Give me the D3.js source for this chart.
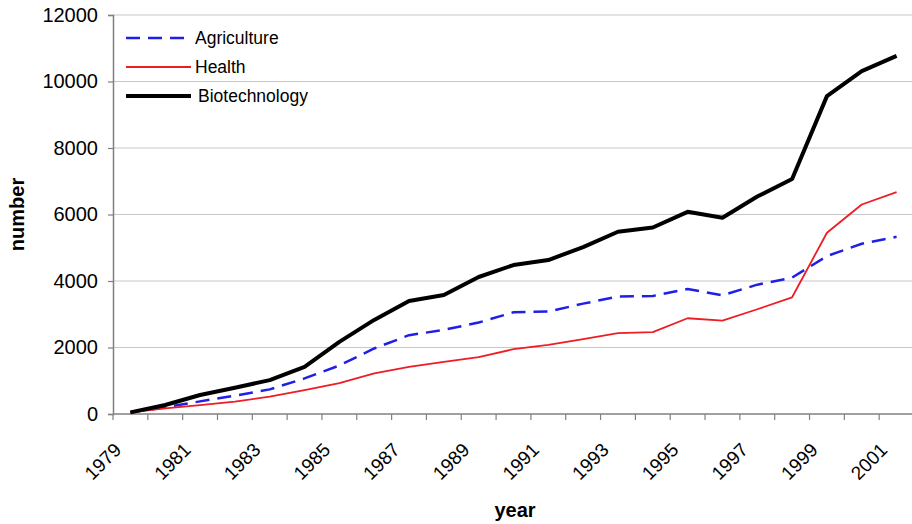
<!DOCTYPE html>
<html>
<head>
<meta charset="utf-8">
<script src="https://cdn.jsdelivr.net/npm/d3@7"></script>
<style>
  body { margin: 0; background: #fff; }
  svg text { font-family: "Liberation Sans", Arial, sans-serif; fill: #000; }
</style>
</head>
<body>
<div id="chart"></div>
<script>
const years = d3.range(1979, 2002);
const yTicks = [0, 2000, 4000, 6000, 8000, 10000, 12000];
const xLabels = years.filter(y => (y - 1979) % 2 === 0);

const agriculture = [50, 200, 380, 550, 740, 1070, 1460, 1970, 2370, 2530, 2750, 3060, 3080, 3320, 3530, 3550, 3760, 3570, 3890, 4100, 4750, 5120, 5330];
const health      = [50, 170, 270, 370, 520, 720, 930, 1220, 1420, 1570, 1710, 1950, 2080, 2250, 2430, 2460, 2880, 2810, 3150, 3510, 5450, 6300, 6670];
const biotech     = [50, 270, 570, 790, 1020, 1420, 2170, 2830, 3400, 3580, 4120, 4480, 4630, 5020, 5480, 5610, 6080, 5900, 6540, 7070, 9560, 10310, 10770];

const series = [
  { name: "Agriculture",   values: agriculture, color: "#1f1fe6", width: 2.5, dash: "14,8" },
  { name: "Health",        values: health,      color: "#ee1c25", width: 1.8, dash: null },
  { name: "Biotechnology", values: biotech,     color: "#000000", width: 4,   dash: null }
];

const width = 912, height = 524;
const margin = { top: 15, right: -2, bottom: 110, left: 113 };

const svg = d3.select("#chart")
  .append("svg")
    .attr("width", width)
    .attr("height", height);

const x = d3.scaleBand()
  .domain(years)
  .range([margin.left, width - margin.right]);

const y = d3.scaleLinear()
  .domain([0, 12000])
  .range([height - margin.bottom, margin.top]);

// gridlines
svg.append("g")
  .selectAll("line")
  .data(yTicks.filter(d => d > 0))
  .join("line")
    .attr("x1", margin.left)
    .attr("x2", width)
    .attr("y1", d => y(d))
    .attr("y2", d => y(d))
    .attr("stroke", "#c8c8c8")
    .attr("stroke-width", 1.2);

// y axis
const yAxis = svg.append("g")
  .attr("transform", `translate(${margin.left},0)`)
  .call(d3.axisLeft(y).tickValues(yTicks).tickSize(5).tickPadding(10).tickFormat(d3.format("d")));
yAxis.select(".domain").attr("stroke", "#808080").attr("stroke-width", 1.5);
yAxis.selectAll(".tick line").attr("stroke", "#808080").attr("stroke-width", 1.2);
yAxis.selectAll(".tick text").style("font-size", "20px");

// x axis line and ticks at band boundaries
const xAxisY = y(0);
svg.append("line")
  .attr("x1", margin.left)
  .attr("x2", width)
  .attr("y1", xAxisY)
  .attr("y2", xAxisY)
  .attr("stroke", "#808080")
  .attr("stroke-width", 1.5);

svg.append("g")
  .selectAll("line")
  .data(years)
  .join("line")
    .attr("x1", d => x(d))
    .attr("x2", d => x(d))
    .attr("y1", xAxisY)
    .attr("y2", xAxisY + 6)
    .attr("stroke", "#808080")
    .attr("stroke-width", 1.2);

svg.append("g")
  .selectAll("text")
  .data(xLabels)
  .join("text")
    .attr("transform", d => `translate(${x(d) + x.bandwidth() / 2 - 8},${xAxisY + 37}) rotate(-45)`)
    .attr("text-anchor", "end")
    .style("font-size", "19px")
    .text(d => d);

// axis titles
svg.append("text")
  .attr("x", 515)
  .attr("y", 517)
  .attr("text-anchor", "middle")
  .style("font-size", "20px")
  .style("font-weight", "bold")
  .text("year");

svg.append("text")
  .attr("transform", `translate(24,${y(6000)}) rotate(-90)`)
  .attr("text-anchor", "middle")
  .style("font-size", "20px")
  .style("font-weight", "bold")
  .text("number");

// lines
const line = d3.line()
  .x((d, i) => x(years[i]) + x.bandwidth() / 2)
  .y(d => y(d));

svg.append("g")
  .selectAll("path")
  .data(series)
  .join("path")
    .attr("d", d => line(d.values))
    .attr("fill", "none")
    .attr("stroke", d => d.color)
    .attr("stroke-width", d => d.width)
    .attr("stroke-dasharray", d => d.dash)
    .attr("stroke-linejoin", "round");

// legend
const legend = svg.append("g")
  .selectAll("g")
  .data(series)
  .join("g")
    .attr("transform", (d, i) => `translate(126,${38 + i * 29})`);

legend.append("line")
  .attr("x1", 0)
  .attr("x2", 65)
  .attr("stroke", d => d.color)
  .attr("stroke-width", d => d.width)
  .attr("stroke-dasharray", d => d.dash);

legend.append("text")
  .attr("x", (d, i) => i === 2 ? 72 : 69)
  .attr("dy", "0.35em")
  .style("font-size", "17.5px")
  .text(d => d.name);
</script>
</body>
</html>
